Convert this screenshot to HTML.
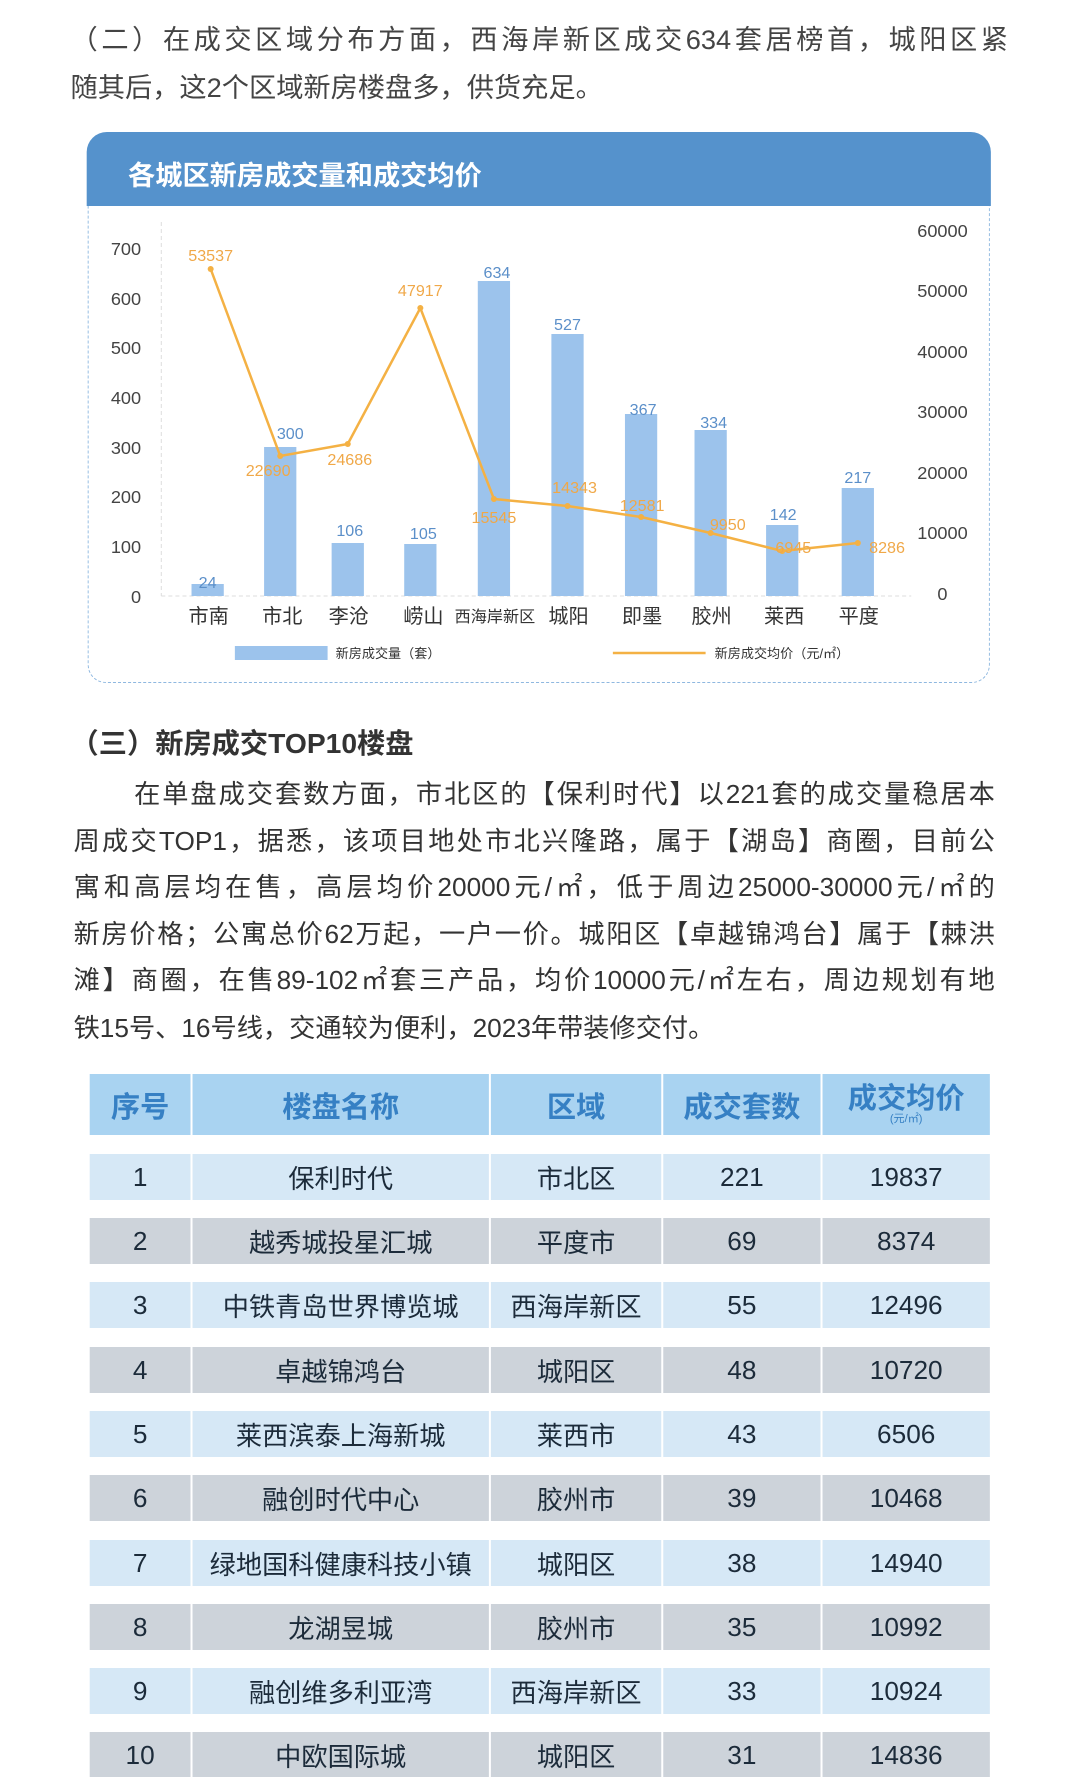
<!DOCTYPE html>
<html><head><meta charset="utf-8"><style>
body{margin:0;background:#fff;}
.page{position:relative;width:1080px;height:1777px;overflow:hidden;background:#fff;font-family:"Liberation Sans","Noto Sans CJK SC",sans-serif;color:#333;}
.wrap{position:absolute;left:0;top:0;width:1080px;height:1777px;transform:scaleX(1.008);transform-origin:0 0;}
.p{position:absolute;left:70px;font-size:27px;white-space:nowrap;color:#444;}
.line{position:absolute;left:73px;width:914px;font-size:26px;text-align:justify;text-align-last:justify;white-space:nowrap;color:#333;}
.tbl{position:absolute;left:89px;width:893px;}
.row{position:absolute;left:0;width:893px;display:flex;}
.row div{border-right:2px solid #fff;display:flex;align-items:center;justify-content:center;box-sizing:border-box;}
.row div:last-child{border-right:none;}
.c1{width:102px}.c2{width:296px}.c3{width:171px}.c4{width:158px}.c5{width:166px}
.hd div{color:#3680c4;font-weight:bold;font-size:29px;}
.bd div{font-size:26px;color:#1c2b3a;}
</style></head><body><div class="page"><div class="wrap">
<div class="p" style="top:18px;width:930px;text-align:justify;text-align-last:justify">（二）在成交区域分布方面，西海岸新区成交634套居榜首，城阳区紧</div>
<div class="p" style="top:66px">随其后，这2个区域新房楼盘多，供货充足。</div>

<div style="position:absolute;left:87px;top:133px;width:895px;height:550px;border:1.5px dashed #8fb8e0;border-radius:18px;box-sizing:border-box;"></div>
<div style="position:absolute;left:86px;top:132px;width:897px;height:74px;background:#5592cc;border-radius:20px 20px 0 0;"></div>
<div style="position:absolute;left:127px;top:154px;font-size:27px;color:#fff;font-weight:bold">各城区新房成交量和成交均价</div>

<svg style="position:absolute;left:0;top:0" width="1080" height="700" font-family="Liberation Sans, Noto Sans CJK SC, sans-serif">
<line x1="160" y1="222" x2="160" y2="596" stroke="#ddd" stroke-dasharray="4,3"/>
<line x1="160" y1="596" x2="904" y2="596" stroke="#ddd" stroke-dasharray="4,3"/>
<g font-size="18" fill="#444" text-anchor="end">
<text x="140" y="255">700</text><text x="140" y="305">600</text><text x="140" y="354">500</text><text x="140" y="404">400</text><text x="140" y="454">300</text><text x="140" y="503">200</text><text x="140" y="553">100</text><text x="140" y="603">0</text>
</g>
<g font-size="18" fill="#444" text-anchor="middle">
<text x="935" y="237">60000</text><text x="935" y="297">50000</text><text x="935" y="358">40000</text><text x="935" y="418">30000</text><text x="935" y="479">20000</text><text x="935" y="539">10000</text><text x="935" y="600">0</text>
</g>
<g fill="#9cc3ec">
<rect x="190" y="584" width="32" height="12"/><rect x="262" y="447" width="32" height="149"/><rect x="329" y="543" width="32" height="53"/><rect x="401" y="544" width="32" height="52"/><rect x="474" y="281" width="32" height="315"/><rect x="547" y="334" width="32" height="262"/><rect x="620" y="414" width="32" height="182"/><rect x="689" y="430" width="32" height="166"/><rect x="760" y="525" width="32" height="71"/><rect x="835" y="488" width="32" height="108"/>
</g>
<polyline fill="none" stroke="#f4b144" stroke-width="2.5" points="209,269 278,456 345,444 417,308 490,499 563,506 636,517 705,533 776,551 851,543"/>
<g fill="#f4b144"><circle cx="209" cy="269" r="3"/><circle cx="278" cy="456" r="3"/><circle cx="345" cy="444" r="3"/><circle cx="417" cy="308" r="3"/><circle cx="490" cy="499" r="3"/><circle cx="563" cy="506" r="3"/><circle cx="636" cy="517" r="3"/><circle cx="705" cy="533" r="3"/><circle cx="776" cy="551" r="3"/><circle cx="851" cy="543" r="3"/></g>
<g font-size="16" fill="#5b8fc9" text-anchor="middle">
<text x="206" y="588">24</text><text x="288" y="439">300</text><text x="347" y="536">106</text><text x="420" y="539">105</text><text x="493" y="278">634</text><text x="563" y="330">527</text><text x="638" y="415">367</text><text x="708" y="428">334</text><text x="777" y="520">142</text><text x="851" y="483">217</text>
</g>
<g font-size="16" fill="#f0a848" text-anchor="middle">
<text x="209" y="261">53537</text><text x="266" y="476">22690</text><text x="347" y="465">24686</text><text x="417" y="296">47917</text><text x="490" y="523">15545</text><text x="570" y="493">14343</text><text x="637" y="511">12581</text><text x="722" y="530">9950</text><text x="787" y="553">6945</text><text x="880" y="553">8286</text>
</g>
<g font-size="20" fill="#333" text-anchor="middle">
<text x="207" y="623">市南</text><text x="280" y="623">市北</text><text x="346" y="623">李沧</text><text x="420" y="623">崂山</text><text x="491" y="622" font-size="16">西海岸新区</text><text x="564" y="623">城阳</text><text x="637" y="623">即墨</text><text x="706" y="623">胶州</text><text x="778" y="623">莱西</text><text x="852" y="623">平度</text>
</g>
<rect x="233" y="646" width="92" height="14" fill="#9cc3ec"/>
<text x="333" y="658" font-size="13" fill="#333">新房成交量（套）</text>
<line x1="608" y1="653" x2="700" y2="653" stroke="#f4b144" stroke-width="2.5"/>
<text x="709" y="658" font-size="13" fill="#333">新房成交均价（元/㎡）</text>
</svg>

<div class="p" style="top:722px;font-size:28px;font-weight:bold;color:#333">（三）新房成交TOP10楼盘</div>
<div class="line" style="top:774px;left:133px;width:854px">在单盘成交套数方面，市北区的【保利时代】以221套的成交量稳居本</div>
<div class="line" style="top:821px">周成交TOP1，据悉，该项目地处市北兴隆路，属于【湖岛】商圈，目前公</div>
<div class="line" style="top:867px">寓和高层均在售，高层均价20000元/㎡，低于周边25000-30000元/㎡的</div>
<div class="line" style="top:914px">新房价格；公寓总价62万起，一户一价。城阳区【卓越锦鸿台】属于【棘洪</div>
<div class="line" style="top:960px">滩】商圈，在售89-102㎡套三产品，均价10000元/㎡左右，周边规划有地</div>
<div class="p" style="top:1008px;left:73px;font-size:26px;color:#333">铁15号、16号线，交通较为便利，2023年带装修交付。</div>

<div class="tbl" style="top:0">
<div class="row hd" style="top:1074px;height:61px;background:#a9d3f1"><div class="c1">序号</div><div class="c2">楼盘名称</div><div class="c3">区域</div><div class="c4">成交套数</div><div class="c5" style="flex-direction:column;line-height:1">成交均价<span style="font-size:11px;font-weight:normal">(元/㎡)</span></div></div>
<div class="row bd" style="top:1154px;height:46px;background:#d6e8f6"><div class="c1">1</div><div class="c2">保利时代</div><div class="c3">市北区</div><div class="c4">221</div><div class="c5">19837</div></div>
<div class="row bd" style="top:1218px;height:46px;background:#cdd3da"><div class="c1">2</div><div class="c2">越秀城投星汇城</div><div class="c3">平度市</div><div class="c4">69</div><div class="c5">8374</div></div>
<div class="row bd" style="top:1282px;height:46px;background:#d6e8f6"><div class="c1">3</div><div class="c2">中铁青岛世界博览城</div><div class="c3">西海岸新区</div><div class="c4">55</div><div class="c5">12496</div></div>
<div class="row bd" style="top:1347px;height:46px;background:#cdd3da"><div class="c1">4</div><div class="c2">卓越锦鸿台</div><div class="c3">城阳区</div><div class="c4">48</div><div class="c5">10720</div></div>
<div class="row bd" style="top:1411px;height:46px;background:#d6e8f6"><div class="c1">5</div><div class="c2">莱西滨泰上海新城</div><div class="c3">莱西市</div><div class="c4">43</div><div class="c5">6506</div></div>
<div class="row bd" style="top:1475px;height:46px;background:#cdd3da"><div class="c1">6</div><div class="c2">融创时代中心</div><div class="c3">胶州市</div><div class="c4">39</div><div class="c5">10468</div></div>
<div class="row bd" style="top:1540px;height:46px;background:#d6e8f6"><div class="c1">7</div><div class="c2">绿地国科健康科技小镇</div><div class="c3">城阳区</div><div class="c4">38</div><div class="c5">14940</div></div>
<div class="row bd" style="top:1604px;height:46px;background:#cdd3da"><div class="c1">8</div><div class="c2">龙湖昱城</div><div class="c3">胶州市</div><div class="c4">35</div><div class="c5">10992</div></div>
<div class="row bd" style="top:1668px;height:46px;background:#d6e8f6"><div class="c1">9</div><div class="c2">融创维多利亚湾</div><div class="c3">西海岸新区</div><div class="c4">33</div><div class="c5">10924</div></div>
<div class="row bd" style="top:1732px;height:46px;background:#cdd3da"><div class="c1">10</div><div class="c2">中欧国际城</div><div class="c3">城阳区</div><div class="c4">31</div><div class="c5">14836</div></div>
</div>
</div></div></body></html>
